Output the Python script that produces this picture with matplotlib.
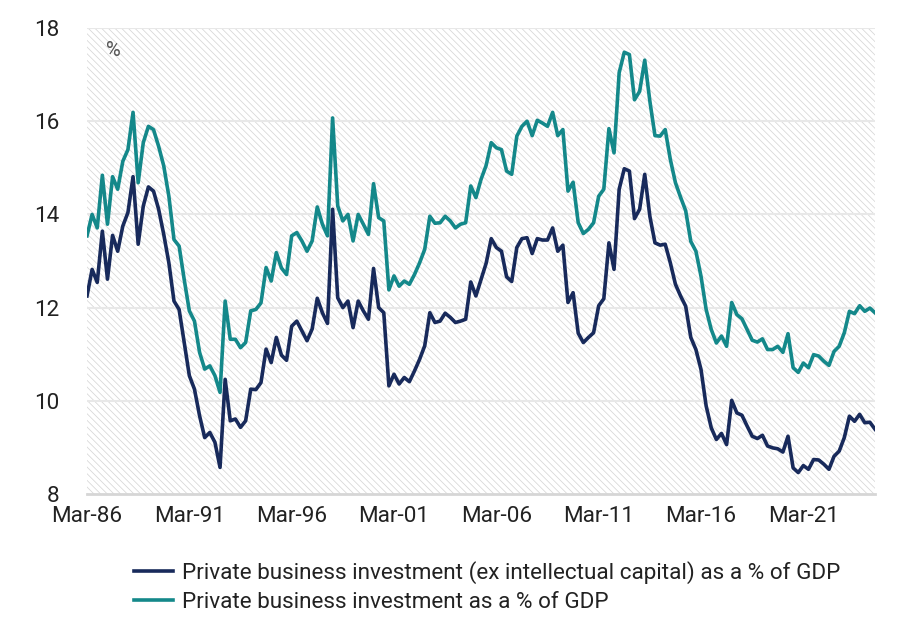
import matplotlib
matplotlib.use("Agg")
import matplotlib.pyplot as plt
from matplotlib.patches import Rectangle
import numpy as np
import pandas as pd

plt.rcParams['font.family'] = ['Roboto', 'DejaVu Sans']
plt.rcParams['hatch.linewidth'] = 0.55

# quarterly, Mar-86 onwards
START = "1986-03-31"

ex_ip = [12.25, 12.82, 12.54, 13.64, 12.61, 13.55, 13.21, 13.75, 14.04, 14.81,
         13.36, 14.18, 14.59, 14.50, 14.11, 13.57, 12.96, 12.14, 11.96, 11.25,
         10.54, 10.25, 9.68, 9.21, 9.32, 9.11, 8.57, 10.46, 9.57, 9.61,
         9.43, 9.57, 10.25, 10.24, 10.39, 11.11, 10.82, 11.36, 10.98, 10.87,
         11.60, 11.71, 11.50, 11.29, 11.54, 12.20, 11.89, 11.66, 14.11, 12.21,
         12.00, 12.14, 11.57, 12.14, 11.93, 11.75, 12.84, 12.00, 11.89, 10.32,
         10.57, 10.36, 10.50, 10.41, 10.64, 10.89, 11.18, 11.89, 11.68, 11.71,
         11.88, 11.79, 11.68, 11.71, 11.75, 12.55, 12.25, 12.60, 12.95, 13.48,
         13.29, 13.21, 12.66, 12.56, 13.29, 13.48, 13.50, 13.16, 13.48, 13.45,
         13.45, 13.71, 13.21, 13.34, 12.11, 12.32, 11.45, 11.25, 11.36, 11.46,
         12.04, 12.19, 13.39, 12.82, 14.54, 14.98, 14.93, 13.91, 14.11, 14.86,
         13.96, 13.39, 13.34, 13.36, 12.96, 12.50, 12.25, 12.03, 11.36, 11.10,
         10.67, 9.89, 9.42, 9.17, 9.30, 9.06, 10.01, 9.74, 9.69, 9.46,
         9.24, 9.19, 9.26, 9.03, 8.99, 8.97, 8.90, 9.24, 8.56, 8.46,
         8.61, 8.53, 8.74, 8.73, 8.64, 8.53, 8.81, 8.92, 9.21, 9.67,
         9.56, 9.71, 9.53, 9.54, 9.39]

total = [13.54, 14.00, 13.71, 14.84, 13.79, 14.81, 14.54, 15.14, 15.39, 16.19,
         14.68, 15.54, 15.89, 15.82, 15.46, 15.04, 14.39, 13.46, 13.32, 12.60,
         11.93, 11.71, 11.04, 10.68, 10.75, 10.54, 10.18, 12.14, 11.32, 11.32,
         11.14, 11.25, 11.93, 11.96, 12.10, 12.86, 12.57, 13.18, 12.85, 12.71,
         13.54, 13.61, 13.43, 13.21, 13.43, 14.16, 13.79, 13.54, 16.07, 14.18,
         13.86, 14.00, 13.43, 14.00, 13.79, 13.57, 14.66, 13.93, 13.86, 12.38,
         12.68, 12.46, 12.57, 12.50, 12.71, 12.96, 13.25, 13.96, 13.81, 13.82,
         13.96, 13.86, 13.71, 13.79, 13.82, 14.61, 14.36, 14.75, 15.05, 15.54,
         15.43, 15.39, 14.93, 14.86, 15.68, 15.89, 16.00, 15.69, 16.02, 15.96,
         15.89, 16.19, 15.69, 15.82, 14.50, 14.69, 13.82, 13.59, 13.68, 13.82,
         14.39, 14.54, 15.84, 15.32, 17.04, 17.48, 17.43, 16.46, 16.64, 17.31,
         16.43, 15.69, 15.68, 15.82, 15.18, 14.68, 14.37, 14.08, 13.42, 13.21,
         12.67, 11.96, 11.53, 11.24, 11.39, 11.17, 12.11, 11.85, 11.76, 11.53,
         11.30, 11.26, 11.33, 11.10, 11.10, 11.17, 11.04, 11.44, 10.71, 10.61,
         10.81, 10.71, 10.99, 10.96, 10.85, 10.76, 11.06, 11.17, 11.46, 11.92,
         11.87, 12.04, 11.92, 11.99, 11.89]

labels = ["Private business investment (ex intellectual capital) as a % of GDP",
          "Private business investment as a % of GDP"]
NAVY = "#182a5b"
TEAL = "#14888a"
FS = 16.2

dates = pd.date_range(START, periods=len(total), freq="QE")
x = np.arange(len(total))
tick_pos = x[::20]
tick_lab = [d.strftime("%b-%y") for d in dates[::20]]

fig = plt.figure(figsize=(9.24, 6.25), dpi=100)
ax = fig.add_axes([87 / 924, 1 - 494 / 625, (875 - 87) / 924, (494 - 28) / 625])

# hatched background
bg = Rectangle((0, 0), 1, 1, transform=ax.transAxes, facecolor="white",
               edgecolor="#d6d6d6", hatch="\\\\\\\\\\", linewidth=0, zorder=0)
ax.add_patch(bg)

for yv in [10, 12, 14, 16, 18]:
    ax.axhline(yv, color="#e8e8e8", lw=1.5, zorder=1)

ax.plot(x, ex_ip, color=NAVY, lw=2.6, label=labels[0], zorder=3)
ax.plot(x, total, color=TEAL, lw=2.6, label=labels[1], zorder=3)

ax.set_xlim(0, len(total) - 1)
ax.set_ylim(8, 18)
ax.set_yticks([8, 10, 12, 14, 16, 18])
ax.set_xticks(tick_pos)
ax.set_xticklabels(tick_lab)
ax.tick_params(axis="y", length=0, pad=20, labelsize=FS, labelcolor="#222222")
ax.tick_params(axis="x", length=0, pad=9, labelsize=FS, labelcolor="#222222")
for s in ["top", "right", "left"]:
    ax.spines[s].set_visible(False)
ax.spines["bottom"].set_color("#d6d6d6")
ax.spines["bottom"].set_linewidth(2)
ax.set_facecolor("none")

ax.text(0.034, 0.952, "%", transform=ax.transAxes, fontsize=14.5,
        color="#555555", va="center", ha="center")

fig.legend(loc="upper left", bbox_to_anchor=(114 / 924, 1 - 541 / 625),
           frameon=False, fontsize=FS, handlelength=1.7, handletextpad=0.4,
           labelspacing=0.33, labelcolor="#222222")

fig.savefig("out.png", dpi=100)
